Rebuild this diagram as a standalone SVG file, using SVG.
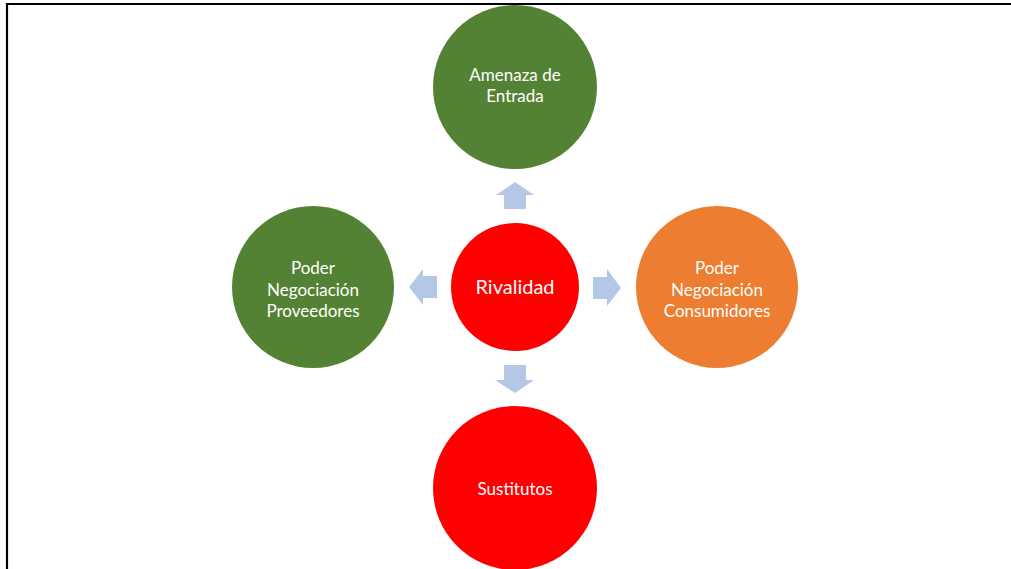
<svg xmlns="http://www.w3.org/2000/svg" width="1011" height="569" viewBox="0 0 1011 569">
<style>
.t{font-family:Lato,"Liberation Sans",sans-serif;fill:#fff;text-anchor:middle;font-size:17px}
.big{font-size:20px}
.ar{fill:#B4C7E7}
</style>
<rect x="0" y="0" width="1011" height="569" fill="#fff"/>
<path d="M7,569 V4 H1011" fill="none" stroke="#000" stroke-width="2.2"/>
<g id="connectors">
<polygon class="ar" points="515,182 534,195 526,195 526,209 504,209 504,195 496,195"/>
<polygon class="ar" points="409,287 423,269 423,276 437,276 437,298 423,298 423,305"/>
<polygon class="ar" points="621,288 607,269 607,277 593,277 593,299 607,299 607,306"/>
<polygon class="ar" points="515,393 534,380 526,380 526,365 504,365 504,380 495,380"/>
</g>
<g id="amenaza">
<circle cx="515" cy="87" r="82" fill="#548235"/>
<text class="t" x="515" y="81">Amenaza de</text>
<text class="t" x="515" y="102">Entrada</text>
</g>
<g id="proveedores">
<circle cx="313" cy="287" r="81" fill="#548235"/>
<text class="t" x="313" y="274">Poder</text>
<text class="t" x="313" y="295.5">Negociación</text>
<text class="t" x="313" y="317">Proveedores</text>
</g>
<g id="consumidores">
<circle cx="717" cy="287" r="81" fill="#ED7D31"/>
<text class="t" x="717" y="274">Poder</text>
<text class="t" x="717" y="295.5">Negociación</text>
<text class="t" x="717" y="317">Consumidores</text>
</g>
<g id="rivalidad">
<circle cx="515" cy="287" r="64" fill="#FF0000"/>
<text class="t big" x="515" y="294">Rivalidad</text>
</g>
<g id="sustitutos">
<circle cx="515" cy="488" r="82" fill="#FF0000"/>
<text class="t" x="515" y="495">Sustitutos</text>
</g>
</svg>
